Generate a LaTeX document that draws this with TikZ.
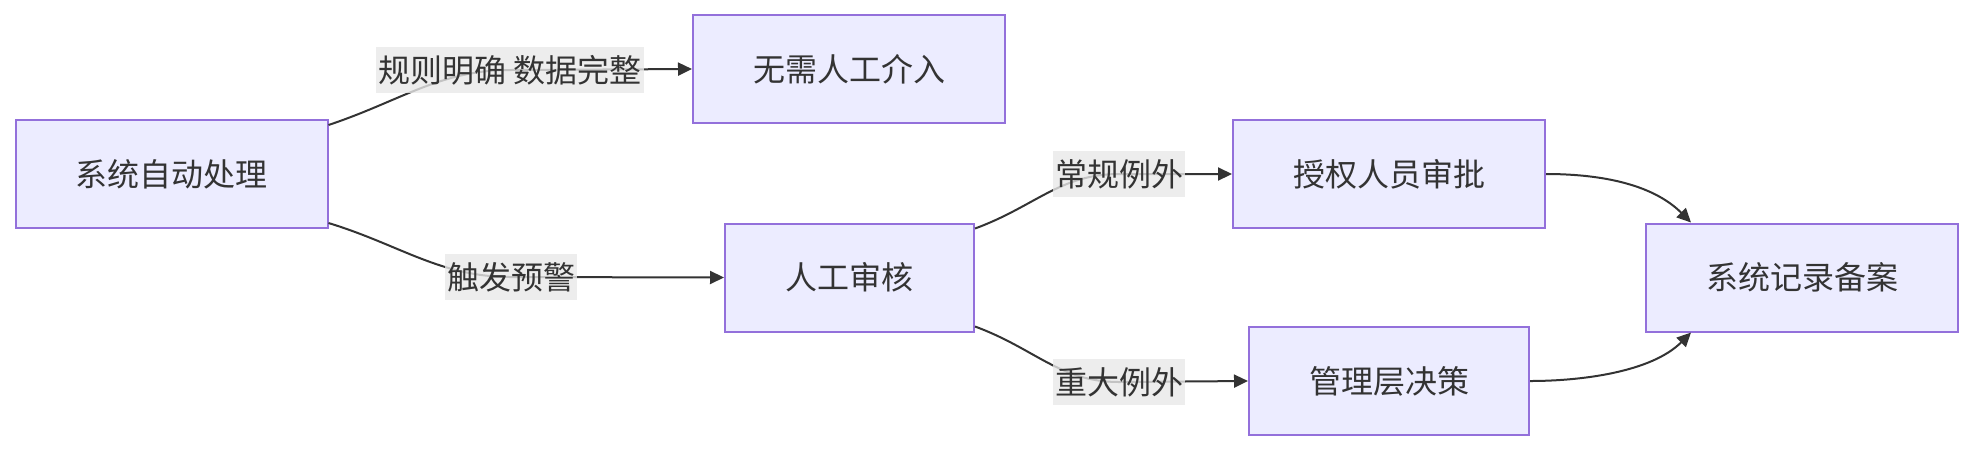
\documentclass[tikz,border=0pt]{standalone}
\usepackage{fontspec}
\usepackage{tikz}
\usetikzlibrary{arrows.meta}
\setmainfont{Noto Sans CJK SC}
\definecolor{mmfill}{HTML}{ECECFF}
\definecolor{mmline}{HTML}{9370DB}
\definecolor{mmtext}{HTML}{333333}
\definecolor{mmlabel}{HTML}{E8E8E8}

\begin{document}
\begin{tikzpicture}[x=0.5pt, y=-0.5pt, font=\fontsize{16pt}{19pt}\selectfont, text=mmtext,
    proc/.style={draw=mmline, fill=mmfill, line width=1pt, minimum height=54pt, inner sep=0pt},
    lbl/.style={fill=mmlabel, fill opacity=0.8, text opacity=1, inner xsep=1pt, inner ysep=0pt, minimum height=23pt},
    edge/.style={draw=mmtext, line width=1pt, -{Triangle[length=7pt,width=6.5pt]}}]
    \useasboundingbox (0,0) rectangle (1973,452);
    \node[proc, minimum width=156pt] (auto) at (171.5,174) {系统自动处理};
    \node[proc, minimum width=156pt] (none) at (849,69) {无需人工介入};
    \node[proc, minimum width=124.5pt] (review) at (849.5,277.5) {人工审核};
    \node[proc, minimum width=156pt] (appr) at (1389,174) {授权人员审批};
    \node[proc, minimum width=140pt] (mgmt) at (1389,381) {管理层决策};
    \node[proc, minimum width=156pt] (rec) at (1802,277.5) {系统记录备案};
    \coordinate (mRule) at (510,70);
    \coordinate (mWarn) at (511,277);
    \coordinate (mNorm) at (1119,174);
    \coordinate (mMajor) at (1119,382);
    \draw[edge] ([yshift=-3pt]auto.north east) .. controls +(72,-24) and (440,70) .. (mRule) -- (none.west);
    \draw[edge] ([yshift=3pt]auto.south east) .. controls +(72,22) and (440,277) .. (mWarn) -- (review.west);
    \draw[edge] ([yshift=-3pt]review.north east) .. controls +(60,-22) and (1060,174) .. (mNorm) -- (appr.west);
    \draw[edge] ([yshift=3pt]review.south east) .. controls +(60,22) and (1060,382) .. (mMajor) -- (mgmt.west);
    \draw[edge] (appr.east) .. controls +(50,0) and +(-40,-40) .. ([xshift=23pt]rec.north west);
    \draw[edge] (mgmt.east) .. controls +(50,0) and +(-40,40) .. ([xshift=23pt]rec.south west);
    \node[lbl] (lRule) at (mRule) {规则明确 数据完整};
    \node[lbl] (lWarn) at (mWarn) {触发预警};
    \node[lbl] (lNorm) at (mNorm) {常规例外};
    \node[lbl] (lMajor) at (mMajor) {重大例外};
\end{tikzpicture}
\end{document}
